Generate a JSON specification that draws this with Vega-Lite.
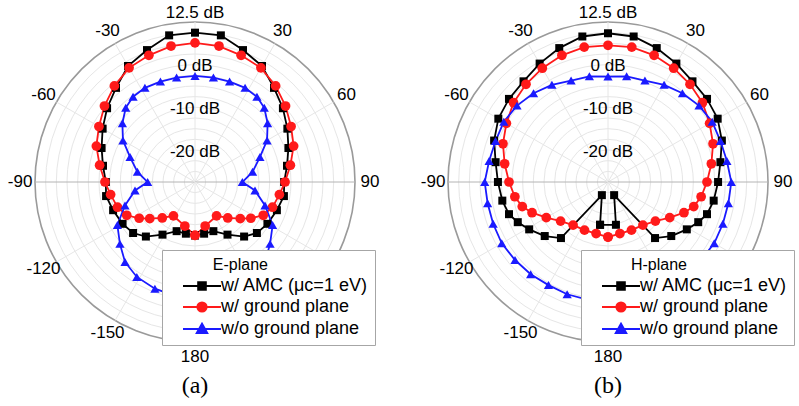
{
  "$schema": "https://vega.github.io/schema/vega-lite/v6.json",
  "background": "white",
  "padding": {"left": 7, "top": 4, "right": 2, "bottom": 5},
  "bounds": "flush",
  "spacing": 93,
  "config": {
    "view": {"stroke": null},
    "font": "Liberation Sans",
    "legend": {
      "fillColor": "#ffffff", "strokeColor": "#a6a6a6", "padding": 7, "cornerRadius": 0,
      "titleFont": "Liberation Sans", "titleFontSize": 16, "titleFontWeight": "normal", "titleColor": "#000000", "titlePadding": 4,
      "titleAnchor": "middle", "titleAlign": "right",
      "labelFont": "Liberation Sans", "labelFontSize": 18, "labelColor": "#000000", "labelLimit": 300,
      "symbolSize": 64, "symbolStrokeWidth": 2, "symbolOffset": 24, "labelOffset": 10, "rowPadding": 3
    }
  },
  "datasets": {
    "rings": [{"g": -22.5}, {"g": -20}, {"g": -17.5}, {"g": -15}, {"g": -12.5}, {"g": -10}, {"g": -7.5}, {"g": -5}, {"g": -2.5}, {"g": 0}, {"g": 2.5}, {"g": 5}, {"g": 7.5}, {"g": 10}, {"g": 12.5}],
    "spokes": [{"a": -150}, {"a": -120}, {"a": -90}, {"a": -60}, {"a": -30}, {"a": 0}, {"a": 30}, {"a": 60}, {"a": 90}, {"a": 120}, {"a": 150}, {"a": 180}],
    "angles": [{"a": -30, "t": "-30"}, {"a": 30, "t": "30"}, {"a": -60, "t": "-60"}, {"a": 60, "t": "60"}, {"a": -90, "t": "-90"}, {"a": 90, "t": "90"}, {"a": -120, "t": "-120"}, {"a": 120, "t": "120"}, {"a": -150, "t": "-150"}, {"a": 150, "t": "150"}, {"a": 180, "t": "180"}],
    "dbl": [{"g": 12.5, "t": "12.5 dB"}, {"g": 0, "t": "0 dB"}, {"g": -10, "t": "-10 dB"}, {"g": -20, "t": "-20 dB"}],
    "E": [
      {"s": "amc", "a": -180, "g": -12.5}, {"s": "amc", "a": -170, "g": -12.7}, {"s": "amc", "a": -159.5, "g": -12.7}, {"s": "amc", "a": -148.3, "g": -10.5}, {"s": "amc", "a": -138, "g": -7.8}, {"s": "amc", "a": -129.5, "g": -6.2}, {"s": "amc", "a": -120, "g": -5.4}, {"s": "amc", "a": -109, "g": -4.7}, {"s": "amc", "a": -99, "g": -3.9}, {"s": "amc", "a": -90, "g": -4.1}, {"s": "amc", "a": -80, "g": -3.1}, {"s": "amc", "a": -70, "g": -1.7}, {"s": "amc", "a": -60, "g": 0.0}, {"s": "amc", "a": -50, "g": 1.9}, {"s": "amc", "a": -40, "g": 3.8}, {"s": "amc", "a": -30, "g": 6.4}, {"s": "amc", "a": -20, "g": 7.9}, {"s": "amc", "a": -10, "g": 9.9}, {"s": "amc", "a": 0, "g": 10.0}, {"s": "amc", "a": 10, "g": 9.9}, {"s": "amc", "a": 20, "g": 7.9}, {"s": "amc", "a": 30, "g": 6.4}, {"s": "amc", "a": 40, "g": 3.8}, {"s": "amc", "a": 50, "g": 1.9}, {"s": "amc", "a": 60, "g": 0.0}, {"s": "amc", "a": 70, "g": -1.7}, {"s": "amc", "a": 80, "g": -3.1}, {"s": "amc", "a": 90, "g": -4.1}, {"s": "amc", "a": 99, "g": -3.9}, {"s": "amc", "a": 109, "g": -4.7}, {"s": "amc", "a": 120, "g": -5.4}, {"s": "amc", "a": 129.5, "g": -6.2}, {"s": "amc", "a": 138, "g": -7.8}, {"s": "amc", "a": 148.3, "g": -10.5}, {"s": "amc", "a": 159.5, "g": -12.7}, {"s": "amc", "a": 170, "g": -12.7}, {"s": "amc", "a": 180, "g": -12.5},
      {"s": "gp", "a": -180, "g": -12.5}, {"s": "gp", "a": -167, "g": -14.4}, {"s": "gp", "a": -147.5, "g": -15.6}, {"s": "gp", "a": -137.7, "g": -13.6}, {"s": "gp", "a": -129, "g": -11.35}, {"s": "gp", "a": -123, "g": -9.4}, {"s": "gp", "a": -116, "g": -7.2}, {"s": "gp", "a": -108, "g": -5.9}, {"s": "gp", "a": -98.5, "g": -5.0}, {"s": "gp", "a": -90, "g": -3.9}, {"s": "gp", "a": -80, "g": -2.3}, {"s": "gp", "a": -70, "g": -0.4}, {"s": "gp", "a": -60, "g": 1.0}, {"s": "gp", "a": -50, "g": 2.7}, {"s": "gp", "a": -40, "g": 4.4}, {"s": "gp", "a": -30, "g": 5.9}, {"s": "gp", "a": -20, "g": 6.6}, {"s": "gp", "a": -10, "g": 7.35}, {"s": "gp", "a": 0, "g": 7.6}, {"s": "gp", "a": 10, "g": 7.35}, {"s": "gp", "a": 20, "g": 6.6}, {"s": "gp", "a": 30, "g": 5.9}, {"s": "gp", "a": 40, "g": 4.4}, {"s": "gp", "a": 50, "g": 2.7}, {"s": "gp", "a": 60, "g": 1.0}, {"s": "gp", "a": 70, "g": -0.4}, {"s": "gp", "a": 80, "g": -2.3}, {"s": "gp", "a": 90, "g": -3.9}, {"s": "gp", "a": 98.5, "g": -5.0}, {"s": "gp", "a": 108, "g": -5.9}, {"s": "gp", "a": 116, "g": -7.2}, {"s": "gp", "a": 123, "g": -9.4}, {"s": "gp", "a": 129, "g": -11.35}, {"s": "gp", "a": 137.7, "g": -13.6}, {"s": "gp", "a": 147.5, "g": -15.6}, {"s": "gp", "a": 167, "g": -14.4}, {"s": "gp", "a": 180, "g": -12.5},
      {"s": "nogp", "a": -180, "g": 2.3}, {"s": "nogp", "a": -170, "g": 2.1}, {"s": "nogp", "a": -159.4, "g": 1.7}, {"s": "nogp", "a": -148.5, "g": 1.1}, {"s": "nogp", "a": -138.8, "g": -0.1}, {"s": "nogp", "a": -129.5, "g": -2.2}, {"s": "nogp", "a": -119, "g": -4.2}, {"s": "nogp", "a": -108.5, "g": -7.7}, {"s": "nogp", "a": -98, "g": -10.8}, {"s": "nogp", "a": -90, "g": -13.9}, {"s": "nogp", "a": -80, "g": -11.3}, {"s": "nogp", "a": -69, "g": -8.7}, {"s": "nogp", "a": -60, "g": -5.5}, {"s": "nogp", "a": -51, "g": -3.1}, {"s": "nogp", "a": -43, "g": -1.2}, {"s": "nogp", "a": -36, "g": -0.3}, {"s": "nogp", "a": -28, "g": 0.0}, {"s": "nogp", "a": -19, "g": -0.1}, {"s": "nogp", "a": -10, "g": -0.15}, {"s": "nogp", "a": 0, "g": -0.15}, {"s": "nogp", "a": 10, "g": -0.15}, {"s": "nogp", "a": 19, "g": -0.1}, {"s": "nogp", "a": 28, "g": 0.0}, {"s": "nogp", "a": 36, "g": -0.3}, {"s": "nogp", "a": 43, "g": -1.2}, {"s": "nogp", "a": 51, "g": -3.1}, {"s": "nogp", "a": 60, "g": -5.5}, {"s": "nogp", "a": 69, "g": -8.7}, {"s": "nogp", "a": 80, "g": -11.3}, {"s": "nogp", "a": 90, "g": -13.9}, {"s": "nogp", "a": 98, "g": -10.8}, {"s": "nogp", "a": 108.5, "g": -7.7}, {"s": "nogp", "a": 119, "g": -4.2}, {"s": "nogp", "a": 129.5, "g": -2.2}, {"s": "nogp", "a": 138.8, "g": -0.1}, {"s": "nogp", "a": 148.5, "g": 1.1}, {"s": "nogp", "a": 159.4, "g": 1.7}, {"s": "nogp", "a": 170, "g": 2.1}, {"s": "nogp", "a": 180, "g": 2.3}
    ],
    "H": [
      {"s": "amc", "a": -169.5, "g": -14.8}, {"s": "amc", "a": -155, "g": -21.6}, {"s": "amc", "a": -140, "g": -7.85}, {"s": "amc", "a": -130.5, "g": -5.5}, {"s": "amc", "a": -121, "g": -3.45}, {"s": "amc", "a": -114, "g": -1.85}, {"s": "amc", "a": -108, "g": -0.6}, {"s": "amc", "a": -100, "g": 0.15}, {"s": "amc", "a": -90, "g": 0.8}, {"s": "amc", "a": -80, "g": 1.75}, {"s": "amc", "a": -70, "g": 3.4}, {"s": "amc", "a": -60, "g": 4.68}, {"s": "amc", "a": -50, "g": 5.3}, {"s": "amc", "a": -40, "g": 5.8}, {"s": "amc", "a": -30, "g": 7.05}, {"s": "amc", "a": -20, "g": 8.4}, {"s": "amc", "a": -10, "g": 9.63}, {"s": "amc", "a": 0, "g": 9.86}, {"s": "amc", "a": 10, "g": 9.63}, {"s": "amc", "a": 20, "g": 8.4}, {"s": "amc", "a": 30, "g": 7.05}, {"s": "amc", "a": 40, "g": 5.8}, {"s": "amc", "a": 50, "g": 5.3}, {"s": "amc", "a": 60, "g": 4.68}, {"s": "amc", "a": 70, "g": 3.4}, {"s": "amc", "a": 80, "g": 1.75}, {"s": "amc", "a": 90, "g": 0.8}, {"s": "amc", "a": 100, "g": 0.15}, {"s": "amc", "a": 108, "g": -0.6}, {"s": "amc", "a": 114, "g": -1.85}, {"s": "amc", "a": 121, "g": -3.45}, {"s": "amc", "a": 130.5, "g": -5.5}, {"s": "amc", "a": 140, "g": -7.85}, {"s": "amc", "a": 155, "g": -21.6}, {"s": "amc", "a": 169.5, "g": -14.8}, {"s": "amc", "a": 190.5, "g": -14.8},
      {"s": "gp", "a": -180, "g": -12.1}, {"s": "gp", "a": -167, "g": -12.6}, {"s": "gp", "a": -154, "g": -12.45}, {"s": "gp", "a": -141, "g": -12.0}, {"s": "gp", "a": -129.5, "g": -10.6}, {"s": "gp", "a": -120, "g": -8.3}, {"s": "gp", "a": -112, "g": -5.8}, {"s": "gp", "a": -106, "g": -4.1}, {"s": "gp", "a": -99, "g": -2.9}, {"s": "gp", "a": -90, "g": -1.8}, {"s": "gp", "a": -80, "g": -0.4}, {"s": "gp", "a": -70, "g": 1.2}, {"s": "gp", "a": -60, "g": 2.5}, {"s": "gp", "a": -50, "g": 3.9}, {"s": "gp", "a": -40, "g": 4.9}, {"s": "gp", "a": -30, "g": 5.8}, {"s": "gp", "a": -20, "g": 6.6}, {"s": "gp", "a": -10, "g": 7.1}, {"s": "gp", "a": 0, "g": 7.04}, {"s": "gp", "a": 10, "g": 7.1}, {"s": "gp", "a": 20, "g": 6.6}, {"s": "gp", "a": 30, "g": 5.8}, {"s": "gp", "a": 40, "g": 4.9}, {"s": "gp", "a": 50, "g": 3.9}, {"s": "gp", "a": 60, "g": 2.5}, {"s": "gp", "a": 70, "g": 1.2}, {"s": "gp", "a": 80, "g": -0.4}, {"s": "gp", "a": 90, "g": -1.8}, {"s": "gp", "a": 99, "g": -2.9}, {"s": "gp", "a": 106, "g": -4.1}, {"s": "gp", "a": 112, "g": -5.8}, {"s": "gp", "a": 120, "g": -8.3}, {"s": "gp", "a": 129.5, "g": -10.6}, {"s": "gp", "a": 141, "g": -12.0}, {"s": "gp", "a": 154, "g": -12.45}, {"s": "gp", "a": 167, "g": -12.6}, {"s": "gp", "a": 180, "g": -12.1},
      {"s": "nogp", "a": -180, "g": 3.0}, {"s": "nogp", "a": -170, "g": 3.0}, {"s": "nogp", "a": -160, "g": 3.0}, {"s": "nogp", "a": -150, "g": 2.9}, {"s": "nogp", "a": -140, "g": 3.2}, {"s": "nogp", "a": -130, "g": 3.45}, {"s": "nogp", "a": -120, "g": 3.75}, {"s": "nogp", "a": -110, "g": 3.65}, {"s": "nogp", "a": -100, "g": 3.65}, {"s": "nogp", "a": -90, "g": 3.9}, {"s": "nogp", "a": -80, "g": 3.3}, {"s": "nogp", "a": -70, "g": 3.05}, {"s": "nogp", "a": -60, "g": 3.2}, {"s": "nogp", "a": -50, "g": 2.85}, {"s": "nogp", "a": -40, "g": 2.15}, {"s": "nogp", "a": -30, "g": 1.3}, {"s": "nogp", "a": -20, "g": 0.3}, {"s": "nogp", "a": -10, "g": 0.15}, {"s": "nogp", "a": 0, "g": -0.3}, {"s": "nogp", "a": 10, "g": 0.15}, {"s": "nogp", "a": 20, "g": 0.3}, {"s": "nogp", "a": 30, "g": 1.3}, {"s": "nogp", "a": 40, "g": 2.15}, {"s": "nogp", "a": 50, "g": 2.85}, {"s": "nogp", "a": 60, "g": 3.2}, {"s": "nogp", "a": 70, "g": 3.05}, {"s": "nogp", "a": 80, "g": 3.3}, {"s": "nogp", "a": 90, "g": 3.9}, {"s": "nogp", "a": 100, "g": 3.65}, {"s": "nogp", "a": 110, "g": 3.65}, {"s": "nogp", "a": 120, "g": 3.75}, {"s": "nogp", "a": 130, "g": 3.45}, {"s": "nogp", "a": 140, "g": 3.2}, {"s": "nogp", "a": 150, "g": 2.9}, {"s": "nogp", "a": 160, "g": 3.0}, {"s": "nogp", "a": 170, "g": 3.0}, {"s": "nogp", "a": 180, "g": 3.0}
    ]
  },
  "hconcat": [
    {
      "width": 320, "height": 320,
      "title": {"text": "(a)", "orient": "bottom", "frame": "group", "offset": 9, "baseline": "top", "font": "Liberation Serif", "fontSize": 24, "fontWeight": "normal", "color": "#000000"},
      "layer": [
        {"data": {"name": "rings"}, "transform": [{"calculate": "datum.g+25", "as": "r"}, {"calculate": "0", "as": "z"}],
         "mark": {"type": "point", "shape": "circle", "filled": false, "opacity": 1},
         "encoding": {"x": {"field": "z", "type": "quantitative", "scale": {"domain": [-37.5, 37.5], "nice": false, "zero": false}, "axis": null},
           "y": {"field": "z", "type": "quantitative", "scale": {"domain": [-37.5, 37.5], "nice": false, "zero": false}, "axis": null},
           "size": {"field": "r", "type": "quantitative", "scale": {"type": "pow", "exponent": 2, "domain": [0, 37.5], "range": [0, 102400]}, "legend": null},
           "stroke": {"condition": {"test": "datum.g >= 12.5", "value": "#9a9a9a"}, "value": "#e6e6e6"},
           "strokeWidth": {"condition": {"test": "datum.g >= 12.5", "value": 1.6}, "value": 1}}},
        {"data": {"name": "spokes"}, "transform": [{"calculate": "37.5*sin(datum.a*PI/180)", "as": "sx"}, {"calculate": "37.5*cos(datum.a*PI/180)", "as": "sy"}],
         "mark": {"type": "rule"},
         "encoding": {"x": {"field": "sx", "type": "quantitative", "scale": {"domain": [-37.5, 37.5], "nice": false, "zero": false}, "axis": null},
           "y": {"field": "sy", "type": "quantitative", "scale": {"domain": [-37.5, 37.5], "nice": false, "zero": false}, "axis": null},
           "x2": {"datum": 0}, "y2": {"datum": 0},
           "stroke": {"condition": {"test": "abs(datum.a) == 90", "value": "#b4b4b4"}, "value": "#e6e6e6"}}},
        {"data": {"name": "E"}, "transform": [{"filter": "datum.s === 'amc'"}, {"calculate": "(datum.g+25)*sin(datum.a*PI/180)", "as": "x"}, {"calculate": "(datum.g+25)*cos(datum.a*PI/180)", "as": "y"}],
         "mark": {"type": "line", "strokeWidth": 1.8, "color": "#000000"},
         "encoding": {"x": {"field": "x", "type": "quantitative", "scale": {"domain": [-37.5, 37.5], "nice": false, "zero": false}, "axis": null},
           "y": {"field": "y", "type": "quantitative", "scale": {"domain": [-37.5, 37.5], "nice": false, "zero": false}, "axis": null},
           "order": {"field": "a", "type": "quantitative"}}},
        {"data": {"name": "E"}, "transform": [{"filter": "datum.s === 'gp'"}, {"calculate": "(datum.g+25)*sin(datum.a*PI/180)", "as": "x"}, {"calculate": "(datum.g+25)*cos(datum.a*PI/180)", "as": "y"}],
         "mark": {"type": "line", "strokeWidth": 1.8, "color": "#ff1a1a"},
         "encoding": {"x": {"field": "x", "type": "quantitative", "scale": {"domain": [-37.5, 37.5], "nice": false, "zero": false}, "axis": null},
           "y": {"field": "y", "type": "quantitative", "scale": {"domain": [-37.5, 37.5], "nice": false, "zero": false}, "axis": null},
           "order": {"field": "a", "type": "quantitative"}}},
        {"data": {"name": "E"}, "transform": [{"filter": "datum.s === 'nogp'"}, {"calculate": "(datum.g+25)*sin(datum.a*PI/180)", "as": "x"}, {"calculate": "(datum.g+25)*cos(datum.a*PI/180)", "as": "y"}],
         "mark": {"type": "line", "strokeWidth": 1.8, "color": "#1a1aff"},
         "encoding": {"x": {"field": "x", "type": "quantitative", "scale": {"domain": [-37.5, 37.5], "nice": false, "zero": false}, "axis": null},
           "y": {"field": "y", "type": "quantitative", "scale": {"domain": [-37.5, 37.5], "nice": false, "zero": false}, "axis": null},
           "order": {"field": "a", "type": "quantitative"}}},
        {"data": {"name": "E"}, "transform": [{"filter": "datum.s === 'amc'"}, {"calculate": "(datum.g+25)*sin(datum.a*PI/180)", "as": "x"}, {"calculate": "(datum.g+25)*cos(datum.a*PI/180)", "as": "y"}],
         "mark": {"type": "point", "filled": true, "opacity": 1, "shape": "square", "size": 64, "color": "#000000"},
         "encoding": {"x": {"field": "x", "type": "quantitative", "scale": {"domain": [-37.5, 37.5], "nice": false, "zero": false}, "axis": null},
           "y": {"field": "y", "type": "quantitative", "scale": {"domain": [-37.5, 37.5], "nice": false, "zero": false}, "axis": null}}},
        {"data": {"name": "E"}, "transform": [{"filter": "datum.s === 'gp'"}, {"calculate": "(datum.g+25)*sin(datum.a*PI/180)", "as": "x"}, {"calculate": "(datum.g+25)*cos(datum.a*PI/180)", "as": "y"}],
         "mark": {"type": "point", "filled": true, "opacity": 1, "shape": "circle", "size": 95, "color": "#ff1a1a"},
         "encoding": {"x": {"field": "x", "type": "quantitative", "scale": {"domain": [-37.5, 37.5], "nice": false, "zero": false}, "axis": null},
           "y": {"field": "y", "type": "quantitative", "scale": {"domain": [-37.5, 37.5], "nice": false, "zero": false}, "axis": null}}},
        {"data": {"name": "E"}, "transform": [{"filter": "datum.s === 'nogp'"}, {"calculate": "(datum.g+25)*sin(datum.a*PI/180)", "as": "x"}, {"calculate": "(datum.g+25)*cos(datum.a*PI/180)", "as": "y"}],
         "mark": {"type": "point", "filled": true, "opacity": 1, "shape": "triangle-up", "size": 85, "color": "#1a1aff"},
         "encoding": {"x": {"field": "x", "type": "quantitative", "scale": {"domain": [-37.5, 37.5], "nice": false, "zero": false}, "axis": null},
           "y": {"field": "y", "type": "quantitative", "scale": {"domain": [-37.5, 37.5], "nice": false, "zero": false}, "axis": null}}},
        {"data": {"name": "angles"}, "transform": [{"calculate": "41*sin(datum.a*PI/180)", "as": "lx"}, {"calculate": "41*cos(datum.a*PI/180)", "as": "ly"}],
         "mark": {"type": "text", "font": "Liberation Sans", "fontSize": 17, "align": "center", "baseline": "middle", "color": "#000000"},
         "encoding": {"x": {"field": "lx", "type": "quantitative", "scale": {"domain": [-37.5, 37.5], "nice": false, "zero": false}, "axis": null},
           "y": {"field": "ly", "type": "quantitative", "scale": {"domain": [-37.5, 37.5], "nice": false, "zero": false}, "axis": null},
           "text": {"field": "t"}}},
        {"data": {"name": "dbl"}, "transform": [{"calculate": "datum.g+25", "as": "ry"}, {"calculate": "0", "as": "rx"}],
         "mark": {"type": "text", "font": "Liberation Sans", "fontSize": 17, "align": "center", "baseline": "middle", "dy": -9, "color": "#000000"},
         "encoding": {"x": {"field": "rx", "type": "quantitative", "scale": {"domain": [-37.5, 37.5], "nice": false, "zero": false}, "axis": null},
           "y": {"field": "ry", "type": "quantitative", "scale": {"domain": [-37.5, 37.5], "nice": false, "zero": false}, "axis": null},
           "text": {"field": "t"}}},
        {"data": {"name": "E"}, "transform": [{"filter": "datum.a > 1000"}, {"calculate": "(datum.g+25)*sin(datum.a*PI/180)", "as": "x"}, {"calculate": "(datum.g+25)*cos(datum.a*PI/180)", "as": "y"}],
         "mark": {"type": "point", "filled": true, "opacity": 1, "size": 64, "strokeWidth": 2},
         "encoding": {"x": {"field": "x", "type": "quantitative", "scale": {"domain": [-37.5, 37.5], "nice": false, "zero": false}, "axis": null},
           "y": {"field": "y", "type": "quantitative", "scale": {"domain": [-37.5, 37.5], "nice": false, "zero": false}, "axis": null},
           "fill": {"field": "s", "type": "nominal", "scale": {"domain": ["amc", "gp", "nogp"], "range": ["#000000", "#ff1a1a", "#1a1aff"]},
             "legend": {"title": "E-plane", "orient": "none", "legendX": 127, "legendY": 228, "labelExpr": "datum.value === 'amc' ? 'w/ AMC (μc=1 eV)' : datum.value === 'gp' ? 'w/ ground plane' : 'w/o ground plane'"}},
           "stroke": {"field": "s", "type": "nominal", "scale": {"domain": ["amc", "gp", "nogp"], "range": ["#000000", "#ff1a1a", "#1a1aff"]},
             "legend": {"title": "E-plane", "orient": "none", "legendX": 127, "legendY": 228, "labelExpr": "datum.value === 'amc' ? 'w/ AMC (μc=1 eV)' : datum.value === 'gp' ? 'w/ ground plane' : 'w/o ground plane'"}},
           "shape": {"field": "s", "type": "nominal", "scale": {"domain": ["amc", "gp", "nogp"], "range": ["M-4.75,0H4.75M-0.95,-0.95H0.95V0.95H-0.95Z", "M-4.75,0H4.75M1.15,0A1.15,1.15,0,1,1,-1.15,0A1.15,1.15,0,1,1,1.15,0Z", "M-4.75,0H4.75M0,-1.3L1.3,1H-1.3Z"]},
             "legend": {"title": "E-plane", "orient": "none", "legendX": 127, "legendY": 228, "labelExpr": "datum.value === 'amc' ? 'w/ AMC (μc=1 eV)' : datum.value === 'gp' ? 'w/ ground plane' : 'w/o ground plane'"}}}}
      ]
    },
    {
      "width": 320, "height": 320,
      "title": {"text": "(b)", "orient": "bottom", "frame": "group", "offset": 9, "baseline": "top", "font": "Liberation Serif", "fontSize": 24, "fontWeight": "normal", "color": "#000000"},
      "layer": [
        {"data": {"name": "rings"}, "transform": [{"calculate": "datum.g+25", "as": "r"}, {"calculate": "0", "as": "z"}],
         "mark": {"type": "point", "shape": "circle", "filled": false, "opacity": 1},
         "encoding": {"x": {"field": "z", "type": "quantitative", "scale": {"domain": [-37.5, 37.5], "nice": false, "zero": false}, "axis": null},
           "y": {"field": "z", "type": "quantitative", "scale": {"domain": [-37.5, 37.5], "nice": false, "zero": false}, "axis": null},
           "size": {"field": "r", "type": "quantitative", "scale": {"type": "pow", "exponent": 2, "domain": [0, 37.5], "range": [0, 102400]}, "legend": null},
           "stroke": {"condition": {"test": "datum.g >= 12.5", "value": "#9a9a9a"}, "value": "#e6e6e6"},
           "strokeWidth": {"condition": {"test": "datum.g >= 12.5", "value": 1.6}, "value": 1}}},
        {"data": {"name": "spokes"}, "transform": [{"calculate": "37.5*sin(datum.a*PI/180)", "as": "sx"}, {"calculate": "37.5*cos(datum.a*PI/180)", "as": "sy"}],
         "mark": {"type": "rule"},
         "encoding": {"x": {"field": "sx", "type": "quantitative", "scale": {"domain": [-37.5, 37.5], "nice": false, "zero": false}, "axis": null},
           "y": {"field": "sy", "type": "quantitative", "scale": {"domain": [-37.5, 37.5], "nice": false, "zero": false}, "axis": null},
           "x2": {"datum": 0}, "y2": {"datum": 0},
           "stroke": {"condition": {"test": "abs(datum.a) == 90", "value": "#b4b4b4"}, "value": "#e6e6e6"}}},
        {"data": {"name": "H"}, "transform": [{"filter": "datum.s === 'amc'"}, {"calculate": "(datum.g+25)*sin(datum.a*PI/180)", "as": "x"}, {"calculate": "(datum.g+25)*cos(datum.a*PI/180)", "as": "y"}],
         "mark": {"type": "line", "strokeWidth": 1.8, "color": "#000000"},
         "encoding": {"x": {"field": "x", "type": "quantitative", "scale": {"domain": [-37.5, 37.5], "nice": false, "zero": false}, "axis": null},
           "y": {"field": "y", "type": "quantitative", "scale": {"domain": [-37.5, 37.5], "nice": false, "zero": false}, "axis": null},
           "order": {"field": "a", "type": "quantitative"}}},
        {"data": {"name": "H"}, "transform": [{"filter": "datum.s === 'gp'"}, {"calculate": "(datum.g+25)*sin(datum.a*PI/180)", "as": "x"}, {"calculate": "(datum.g+25)*cos(datum.a*PI/180)", "as": "y"}],
         "mark": {"type": "line", "strokeWidth": 1.8, "color": "#ff1a1a"},
         "encoding": {"x": {"field": "x", "type": "quantitative", "scale": {"domain": [-37.5, 37.5], "nice": false, "zero": false}, "axis": null},
           "y": {"field": "y", "type": "quantitative", "scale": {"domain": [-37.5, 37.5], "nice": false, "zero": false}, "axis": null},
           "order": {"field": "a", "type": "quantitative"}}},
        {"data": {"name": "H"}, "transform": [{"filter": "datum.s === 'nogp'"}, {"calculate": "(datum.g+25)*sin(datum.a*PI/180)", "as": "x"}, {"calculate": "(datum.g+25)*cos(datum.a*PI/180)", "as": "y"}],
         "mark": {"type": "line", "strokeWidth": 1.8, "color": "#1a1aff"},
         "encoding": {"x": {"field": "x", "type": "quantitative", "scale": {"domain": [-37.5, 37.5], "nice": false, "zero": false}, "axis": null},
           "y": {"field": "y", "type": "quantitative", "scale": {"domain": [-37.5, 37.5], "nice": false, "zero": false}, "axis": null},
           "order": {"field": "a", "type": "quantitative"}}},
        {"data": {"name": "H"}, "transform": [{"filter": "datum.s === 'amc'"}, {"calculate": "(datum.g+25)*sin(datum.a*PI/180)", "as": "x"}, {"calculate": "(datum.g+25)*cos(datum.a*PI/180)", "as": "y"}],
         "mark": {"type": "point", "filled": true, "opacity": 1, "shape": "square", "size": 64, "color": "#000000"},
         "encoding": {"x": {"field": "x", "type": "quantitative", "scale": {"domain": [-37.5, 37.5], "nice": false, "zero": false}, "axis": null},
           "y": {"field": "y", "type": "quantitative", "scale": {"domain": [-37.5, 37.5], "nice": false, "zero": false}, "axis": null}}},
        {"data": {"name": "H"}, "transform": [{"filter": "datum.s === 'gp'"}, {"calculate": "(datum.g+25)*sin(datum.a*PI/180)", "as": "x"}, {"calculate": "(datum.g+25)*cos(datum.a*PI/180)", "as": "y"}],
         "mark": {"type": "point", "filled": true, "opacity": 1, "shape": "circle", "size": 95, "color": "#ff1a1a"},
         "encoding": {"x": {"field": "x", "type": "quantitative", "scale": {"domain": [-37.5, 37.5], "nice": false, "zero": false}, "axis": null},
           "y": {"field": "y", "type": "quantitative", "scale": {"domain": [-37.5, 37.5], "nice": false, "zero": false}, "axis": null}}},
        {"data": {"name": "H"}, "transform": [{"filter": "datum.s === 'nogp'"}, {"calculate": "(datum.g+25)*sin(datum.a*PI/180)", "as": "x"}, {"calculate": "(datum.g+25)*cos(datum.a*PI/180)", "as": "y"}],
         "mark": {"type": "point", "filled": true, "opacity": 1, "shape": "triangle-up", "size": 85, "color": "#1a1aff"},
         "encoding": {"x": {"field": "x", "type": "quantitative", "scale": {"domain": [-37.5, 37.5], "nice": false, "zero": false}, "axis": null},
           "y": {"field": "y", "type": "quantitative", "scale": {"domain": [-37.5, 37.5], "nice": false, "zero": false}, "axis": null}}},
        {"data": {"name": "angles"}, "transform": [{"calculate": "41*sin(datum.a*PI/180)", "as": "lx"}, {"calculate": "41*cos(datum.a*PI/180)", "as": "ly"}],
         "mark": {"type": "text", "font": "Liberation Sans", "fontSize": 17, "align": "center", "baseline": "middle", "color": "#000000"},
         "encoding": {"x": {"field": "lx", "type": "quantitative", "scale": {"domain": [-37.5, 37.5], "nice": false, "zero": false}, "axis": null},
           "y": {"field": "ly", "type": "quantitative", "scale": {"domain": [-37.5, 37.5], "nice": false, "zero": false}, "axis": null},
           "text": {"field": "t"}}},
        {"data": {"name": "dbl"}, "transform": [{"calculate": "datum.g+25", "as": "ry"}, {"calculate": "0", "as": "rx"}],
         "mark": {"type": "text", "font": "Liberation Sans", "fontSize": 17, "align": "center", "baseline": "middle", "dy": -9, "color": "#000000"},
         "encoding": {"x": {"field": "rx", "type": "quantitative", "scale": {"domain": [-37.5, 37.5], "nice": false, "zero": false}, "axis": null},
           "y": {"field": "ry", "type": "quantitative", "scale": {"domain": [-37.5, 37.5], "nice": false, "zero": false}, "axis": null},
           "text": {"field": "t"}}},
        {"data": {"name": "H"}, "transform": [{"filter": "datum.a > 1000"}, {"calculate": "(datum.g+25)*sin(datum.a*PI/180)", "as": "x"}, {"calculate": "(datum.g+25)*cos(datum.a*PI/180)", "as": "y"}],
         "mark": {"type": "point", "filled": true, "opacity": 1, "size": 64, "strokeWidth": 2},
         "encoding": {"x": {"field": "x", "type": "quantitative", "scale": {"domain": [-37.5, 37.5], "nice": false, "zero": false}, "axis": null},
           "y": {"field": "y", "type": "quantitative", "scale": {"domain": [-37.5, 37.5], "nice": false, "zero": false}, "axis": null},
           "fill": {"field": "s", "type": "nominal", "scale": {"domain": ["amc", "gp", "nogp"], "range": ["#000000", "#ff1a1a", "#1a1aff"]},
             "legend": {"title": "H-plane", "orient": "none", "legendX": 133, "legendY": 228, "labelExpr": "datum.value === 'amc' ? 'w/ AMC (μc=1 eV)' : datum.value === 'gp' ? 'w/ ground plane' : 'w/o ground plane'"}},
           "stroke": {"field": "s", "type": "nominal", "scale": {"domain": ["amc", "gp", "nogp"], "range": ["#000000", "#ff1a1a", "#1a1aff"]},
             "legend": {"title": "H-plane", "orient": "none", "legendX": 133, "legendY": 228, "labelExpr": "datum.value === 'amc' ? 'w/ AMC (μc=1 eV)' : datum.value === 'gp' ? 'w/ ground plane' : 'w/o ground plane'"}},
           "shape": {"field": "s", "type": "nominal", "scale": {"domain": ["amc", "gp", "nogp"], "range": ["M-4.75,0H4.75M-0.95,-0.95H0.95V0.95H-0.95Z", "M-4.75,0H4.75M1.15,0A1.15,1.15,0,1,1,-1.15,0A1.15,1.15,0,1,1,1.15,0Z", "M-4.75,0H4.75M0,-1.3L1.3,1H-1.3Z"]},
             "legend": {"title": "H-plane", "orient": "none", "legendX": 133, "legendY": 228, "labelExpr": "datum.value === 'amc' ? 'w/ AMC (μc=1 eV)' : datum.value === 'gp' ? 'w/ ground plane' : 'w/o ground plane'"}}}}
      ]
    }
  ],
  "resolve": {"scale": {"fill": "independent", "stroke": "independent", "shape": "independent", "size": "independent", "x": "independent", "y": "independent"}, "legend": {"fill": "independent", "stroke": "independent", "shape": "independent"}}
}
